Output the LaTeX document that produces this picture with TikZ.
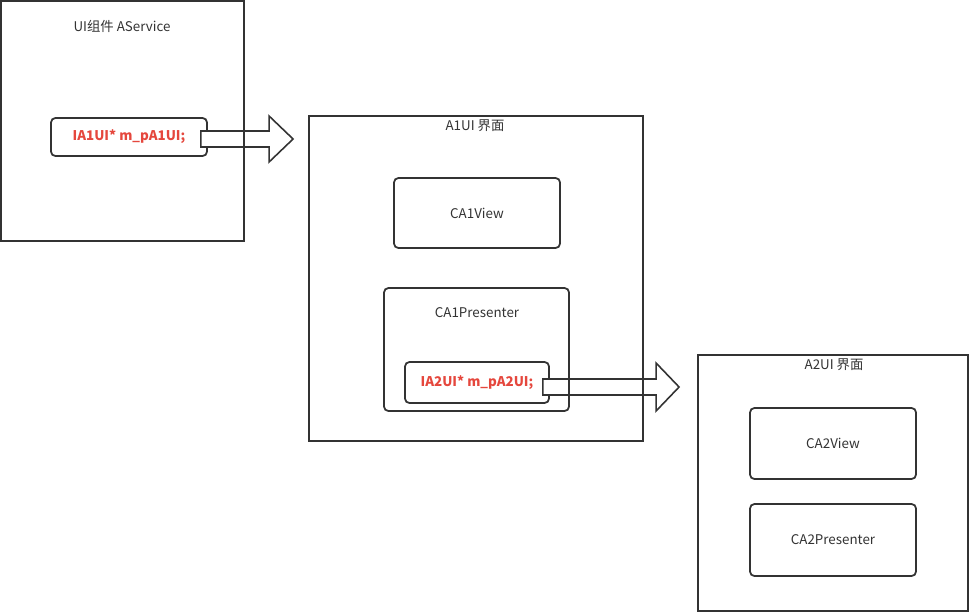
\documentclass[tikz,border=0pt]{standalone}
\usepackage{fontspec}
\setmainfont{Noto Sans CJK SC}
\usepackage{tikz}
\usetikzlibrary{calc, positioning}

\definecolor{linegray}{HTML}{333333}
\definecolor{membred}{HTML}{E5473D}

\pgfdeclarelayer{foreground}
\pgfsetlayers{main,foreground}

\tikzset{
    container/.style={draw=linegray, line width=1.1pt, rectangle},
    comp/.style={draw=linegray, line width=1pt, rounded corners=2.5pt, fill=white,
        font=\fontsize{7.6pt}{9pt}\selectfont, text=linegray},
    member/.style={comp, text=membred, font=\fontsize{7.6pt}{9pt}\selectfont\bfseries},
    title/.style={font=\fontsize{7.6pt}{9pt}\selectfont, text=linegray},
    blockarrow/.style={draw=linegray, line width=0.9pt, fill=white, line join=miter},
}

\begin{document}
\begin{tikzpicture}[x=0.02cm, y=-0.02cm]
    \fill[white] (0,0) rectangle (969,613);
    \useasboundingbox (0,0) rectangle (969,613);

    % outer frames go on top, so their lines cross the block arrows
    \begin{pgfonlayer}{foreground}
    \node[container, minimum width=4.86cm, minimum height=4.8cm] (svc) at (122.5,121) {};
    \node[container, minimum width=6.68cm, minimum height=6.5cm] (a1ui) at (476,278.5) {};
    \node[container, minimum width=5.4cm, minimum height=5.12cm] (a2ui) at (833,483) {};
    \node[comp, fill=none, minimum width=3.7cm, minimum height=2.46cm] (a1pres) at (476.5,349.5) {};
    \end{pgfonlayer}

    % titles
    \node[title] (svctitle) at (122,26) {UI组件 AService};
    \node[title] (a1title) at (475,126) {A1UI 界面};
    \node[title] (prestitle) at (477,313) {CA1Presenter};
    \node[title] (a2title) at (834,365) {A2UI 界面};

    % components
    \node[comp, minimum width=3.32cm, minimum height=1.4cm] (a1view) at (477,213) {CA1View};
    \node[comp, minimum width=3.32cm, minimum height=1.42cm] (a2view) at (833,443.5) {CA2View};
    \node[comp, minimum width=3.32cm, minimum height=1.44cm] (a2pres) at (833,540) {CA2Presenter};

    % member pointers
    \node[member, minimum width=3.12cm, minimum height=0.76cm] (m1) at (129,137) {IA1UI* m\_pA1UI;};
    \node[member, minimum width=2.88cm, minimum height=0.82cm] (m2) at (477,382.5) {IA2UI* m\_pA2UI;};

    % block arrows
    \coordinate (s1) at ($(m1.east)+(-7,2)$);
    \coordinate (t1) at ($(s1 -| a1ui.west)+(-15,0)$);
    \draw[blockarrow] ($(s1)+(0,-8)$) -- ($(t1)+(-24,-8)$) -- ($(t1)+(-24,-23)$)
        -- (t1) -- ($(t1)+(-24,23)$) -- ($(t1)+(-24,8)$) -- ($(s1)+(0,8)$) -- cycle;

    \coordinate (s2) at ($(m2.east)+(-7,4.5)$);
    \coordinate (t2) at ($(s2 -| a2ui.west)+(-18,0)$);
    \draw[blockarrow] ($(s2)+(0,-8)$) -- ($(t2)+(-23,-8)$) -- ($(t2)+(-23,-24)$)
        -- (t2) -- ($(t2)+(-23,24)$) -- ($(t2)+(-23,8)$) -- ($(s2)+(0,8)$) -- cycle;
\end{tikzpicture}
\end{document}
